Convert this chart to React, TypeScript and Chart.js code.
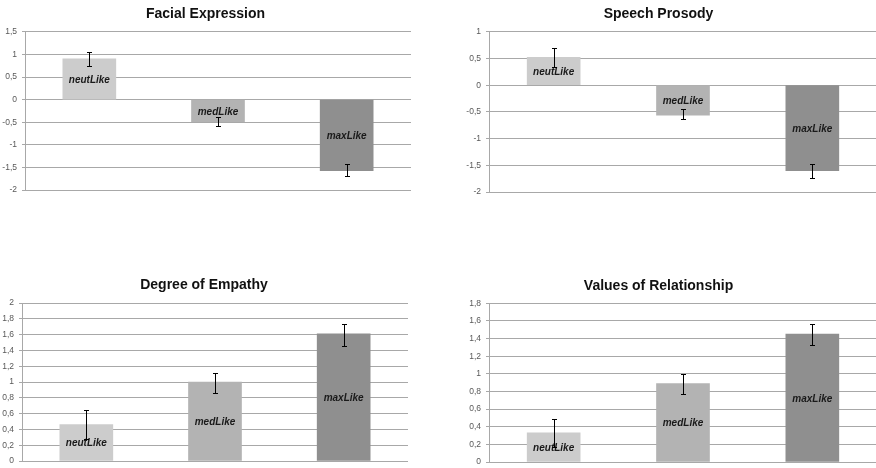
import React, { useEffect, useRef } from "react";
import { Chart, registerables } from "chart.js";

Chart.register(...registerables);

// ---------- data ----------
const CATEGORIES = ["neutLike", "medLike", "maxLike"];
const BAR_COLORS = ["#CCCCCC", "#B3B3B3", "#8F8F8F"];

const FACIAL_TITLE = "Facial Expression";
const FACIAL_VALUES = [0.9, -0.49, -1.57];
const FACIAL_LOW = [0.74, -0.58, -1.69];
const FACIAL_HIGH = [1.05, -0.38, -1.42];
const FACIAL_AXIS = [-2, 1.5, 0.5];

const SPEECH_TITLE = "Speech Prosody";
const SPEECH_VALUES = [0.52, -0.56, -1.6];
const SPEECH_LOW = [0.34, -0.64, -1.73];
const SPEECH_HIGH = [0.7, -0.44, -1.47];
const SPEECH_AXIS = [-2, 1, 0.5];

const EMPATHY_TITLE = "Degree of Empathy";
const EMPATHY_VALUES = [0.46, 1.0, 1.61];
const EMPATHY_LOW = [0.28, 0.86, 1.46];
const EMPATHY_HIGH = [0.64, 1.11, 1.74];
const EMPATHY_AXIS = [0, 2, 0.2];

const RELATION_TITLE = "Values of Relationship";
const RELATION_VALUES = [0.33, 0.89, 1.45];
const RELATION_LOW = [0.17, 0.77, 1.33];
const RELATION_HIGH = [0.49, 1.0, 1.56];
const RELATION_AXIS = [0, 1.8, 0.2];

// ---------- plugin: in-bar labels + error bars ----------
const errorBarsAndLabels = {
  id: "errorBarsAndLabels",
  afterDatasetsDraw(chart: any, _args: any, opts: any) {
    const { ctx } = chart;
    const meta = chart.getDatasetMeta(0);
    const yScale = chart.scales.y;
    const { low, high, labels } = opts;
    ctx.save();
    meta.data.forEach((bar: any, i: number) => {
      const x = Math.round(bar.x) + 0.5;
      const mid = (bar.y + bar.base) / 2 + 1;
      ctx.font = 'italic bold 10px "Liberation Sans", Arial, sans-serif';
      ctx.fillStyle = "#1A1A1A";
      ctx.textAlign = "center";
      ctx.textBaseline = "middle";
      ctx.fillText(labels[i], bar.x, mid);

      const yl = Math.round(yScale.getPixelForValue(low[i])) + 0.5;
      const yh = Math.round(yScale.getPixelForValue(high[i])) + 0.5;
      ctx.strokeStyle = "#000000";
      ctx.lineWidth = 1;
      ctx.beginPath();
      ctx.moveTo(x, yl);
      ctx.lineTo(x, yh);
      ctx.moveTo(x - 2.5, yl);
      ctx.lineTo(x + 2.5, yl);
      ctx.moveTo(x - 2.5, yh);
      ctx.lineTo(x + 2.5, yh);
      ctx.stroke();
    });
    ctx.restore();
  },
};

function fmt(v: number) {
  const r = Math.round(v * 10) / 10;
  return String(r === 0 ? 0 : r).replace(".", ",");
}

type PanelProps = {
  left: number;
  top: number;
  width: number;
  height: number;
  title: string;
  values: number[];
  low: number[];
  high: number[];
  axis: number[];
  axisWidth: number;
  padRight: number;
  padBottom: number;
  titlePadTop: number;
  titlePadBottom: number;
};

function BarPanel(p: PanelProps) {
  const ref = useRef<HTMLCanvasElement | null>(null);
  useEffect(() => {
    if (!ref.current) return;
    const gridColor = "#A8A8A8";
    const chart = new Chart(ref.current, {
      type: "bar",
      data: {
        labels: CATEGORIES,
        datasets: [
          {
            data: p.values,
            backgroundColor: BAR_COLORS,
            borderWidth: 0,
            barThickness: 53,
          },
        ],
      },
      options: {
        animation: false,
        responsive: false,
        devicePixelRatio: 1,
        layout: { padding: { left: 0, right: p.padRight, top: 0, bottom: p.padBottom } },
        plugins: {
          legend: { display: false },
          tooltip: { enabled: false },
          title: {
            display: true,
            text: p.title,
            color: "#111111",
            font: { family: '"Liberation Sans", Arial, sans-serif', size: 14, weight: "bold", lineHeight: 1.2 },
            padding: { top: p.titlePadTop, bottom: p.titlePadBottom },
          },
          errorBarsAndLabels: { low: p.low, high: p.high, labels: CATEGORIES },
        } as any,
        scales: {
          x: { type: "category", display: false },
          y: {
            min: p.axis[0],
            max: p.axis[1],
            ticks: {
              stepSize: p.axis[2],
              color: "#595959",
              font: { family: '"Liberation Sans", Arial, sans-serif', size: 8.5 },
              padding: 5,
              callback: (v: any) => fmt(Number(v)),
            },
            grid: { color: gridColor, lineWidth: 1, tickLength: 3, drawTicks: true },
            border: { display: true, color: gridColor, width: 1 },
            afterFit: (scale: any) => {
              scale.width = p.axisWidth;
              scale.paddingTop = 0;
              scale.paddingBottom = 0;
            },
          },
        },
      },
      plugins: [errorBarsAndLabels],
    });
    return () => chart.destroy();
  }, []);
  return (
    <div style={{ position: "absolute", left: p.left, top: p.top, width: p.width, height: p.height }}>
      <canvas ref={ref} width={p.width} height={p.height} style={{ display: "block" }} />
    </div>
  );
}

export default function App() {
  return (
    <div
      style={{
        position: "fixed",
        left: 0,
        top: 0,
        width: 876,
        height: 468,
        overflow: "hidden",
        background: "#FFFFFF",
      }}
    >
      <BarPanel
        left={0}
        top={0}
        width={414}
        height={200}
        title={FACIAL_TITLE}
        values={FACIAL_VALUES}
        low={FACIAL_LOW}
        high={FACIAL_HIGH}
        axis={FACIAL_AXIS}
        axisWidth={25}
        padRight={3}
        padBottom={10}
        titlePadTop={6}
        titlePadBottom={9}
      />
      <BarPanel
        left={440}
        top={0}
        width={466}
        height={202}
        title={SPEECH_TITLE}
        values={SPEECH_VALUES}
        low={SPEECH_LOW}
        high={SPEECH_HIGH}
        axis={SPEECH_AXIS}
        axisWidth={49}
        padRight={29}
        padBottom={10}
        titlePadTop={6}
        titlePadBottom={9}
      />
      <BarPanel
        left={0}
        top={270}
        width={410}
        height={198}
        title={EMPATHY_TITLE}
        values={EMPATHY_VALUES}
        low={EMPATHY_LOW}
        high={EMPATHY_HIGH}
        axis={EMPATHY_AXIS}
        axisWidth={22}
        padRight={2}
        padBottom={7}
        titlePadTop={7}
        titlePadBottom={9.2}
      />
      <BarPanel
        left={440}
        top={270}
        width={466}
        height={198}
        title={RELATION_TITLE}
        values={RELATION_VALUES}
        low={RELATION_LOW}
        high={RELATION_HIGH}
        axis={RELATION_AXIS}
        axisWidth={49}
        padRight={29}
        padBottom={6}
        titlePadTop={8}
        titlePadBottom={8.5}
      />
    </div>
  );
}
